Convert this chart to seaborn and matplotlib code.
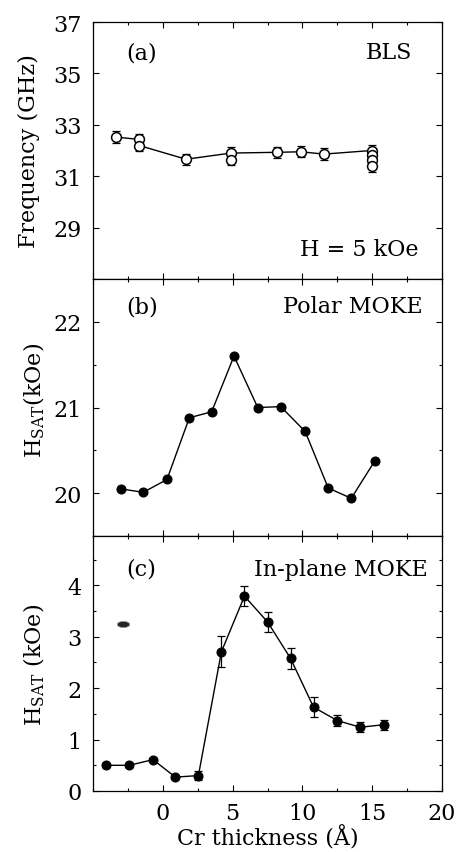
import numpy as np
import pandas as pd
import matplotlib
matplotlib.use("Agg")
import matplotlib.pyplot as plt
from matplotlib.ticker import MultipleLocator
from matplotlib.path import Path
import seaborn as sns

# ---- data -------------------------------------------------------------
# (a) BLS frequency vs Cr thickness
bls_x = [-3.33, -1.67, -1.67, 1.67, 4.88, 4.88, 8.21, 9.88, 11.55, 14.95, 14.95, 14.95, 14.95]
bls_f = [32.52, 32.43, 32.19, 31.66, 31.90, 31.64, 31.93, 31.95, 31.86, 32.00, 31.83, 31.63, 31.38]
bls_err = [0.22, 0.22, 0.22, 0.22, 0.22, 0.22, 0.22, 0.22, 0.22, 0.22, 0.22, 0.22, 0.22]
bls_line_x = [-3.33, -1.67, -1.67, 1.67, 4.88, 8.21, 9.88, 11.55, 14.95]
bls_line_f = [32.52, 32.43, 32.19, 31.66, 31.90, 31.93, 31.95, 31.86, 32.00]

# (b) polar MOKE saturation field
polar_x = [-3.0, -1.4, 0.3, 1.9, 3.5, 5.1, 6.8, 8.45, 10.2, 11.85, 13.5, 15.2]
polar_h = [20.05, 20.01, 20.16, 20.88, 20.95, 21.60, 21.00, 21.01, 20.72, 20.06, 19.94, 20.38]

# (c) in-plane MOKE saturation field
ip_x = [-4.1, -2.4, -0.7, 0.9, 2.55, 4.2, 5.85, 7.5, 9.15, 10.8, 12.5, 14.15, 15.85]
ip_h = [0.50, 0.50, 0.61, 0.27, 0.30, 2.71, 3.79, 3.29, 2.58, 1.63, 1.37, 1.24, 1.29]
ip_err = [0.0, 0.0, 0.0, 0.0, 0.08, 0.30, 0.20, 0.20, 0.20, 0.20, 0.10, 0.10, 0.10]
ip_ref_x = [-2.86]
ip_ref_h = [3.24]

x_ticks = [0, 5, 10, 15, 20]
freq_ticks = [29, 31, 33, 35, 37]
polar_ticks = [20, 21, 22]
ip_ticks = [0, 1, 2, 3, 4]

# ---- style ------------------------------------------------------------
sns.set_theme(style="ticks")
plt.rcParams["font.family"] = ["DejaVu Serif"]
plt.rcParams["mathtext.fontset"] = "custom"
plt.rcParams["mathtext.rm"] = "DejaVu Serif"
plt.rcParams["mathtext.it"] = "DejaVu Serif"
plt.rcParams["text.color"] = "black"
plt.rcParams["axes.labelcolor"] = "black"
FS = 16

fig = plt.figure(figsize=(4.57, 8.53), dpi=100)
left, right = 93 / 457, 442 / 457
edges = [1 - 23 / 853, 1 - 280 / 853, 1 - 537 / 853, 1 - 792 / 853]
axes = []
for i in range(3):
    ax = fig.add_axes([left, edges[i + 1], right - left, edges[i] - edges[i + 1]])
    axes.append(ax)
ax_a, ax_b, ax_c = axes

for ax in axes:
    ax.set_xlim(-5, 20)
    ax.xaxis.set_major_locator(MultipleLocator(5))
    ax.xaxis.set_minor_locator(MultipleLocator(2.5))
    ax.tick_params(which="both", direction="in", top=True, right=True,
                   labelsize=FS, colors="black", width=0.8)
    ax.tick_params(which="major", length=4, pad=8)
    ax.tick_params(which="minor", length=2.5)
    for s in ax.spines.values():
        s.set_linewidth(0.9)
        s.set_color("black")
    if ax is not ax_c:
        ax.tick_params(labelbottom=False)

# (a)
ax_a.set_ylim(27, 37)
ax_a.set_yticks(freq_ticks)
ax_a.errorbar(bls_x, bls_f, yerr=bls_err, fmt="none", ecolor="black",
              elinewidth=0.9, capsize=3, capthick=0.9, zorder=2)
sns.lineplot(x=bls_line_x, y=bls_line_f, ax=ax_a, color="black", lw=1.0,
             sort=False, estimator=None, zorder=3)
sns.scatterplot(x=bls_x, y=bls_f, ax=ax_a, marker="o", s=50,
                facecolor="white", edgecolor="black", linewidth=1.1, zorder=4)
ax_a.set_ylabel("Frequency (GHz)", fontsize=FS)
ax_a.text(-2.6, 35.83, "(a)", fontsize=FS, ha="left", va="center")
ax_a.text(17.9, 35.83, "BLS", fontsize=FS, ha="right", va="center")
ax_a.text(18.3, 28.17, "H = 5 kOe", fontsize=FS, ha="right", va="center")

# (b)
ax_b.set_ylim(19.5, 22.5)
ax_b.set_yticks(polar_ticks)
ax_b.yaxis.set_minor_locator(MultipleLocator(0.5))
sns.lineplot(x=polar_x, y=polar_h, ax=ax_b, color="black", lw=1.0,
             sort=False, estimator=None, marker="o", markersize=6.5,
             markeredgecolor="black", markerfacecolor="black")
ax_b.set_ylabel(r"H$_{\rm SAT}$(kOe)", fontsize=FS)
ax_b.text(-2.6, 22.18, "(b)", fontsize=FS, ha="left", va="center")
ax_b.text(18.6, 22.18, "Polar MOKE", fontsize=FS, ha="right", va="center")

# (c)
ax_c.set_ylim(0, 4.96)
ax_c.set_yticks(ip_ticks)
ax_c.yaxis.set_minor_locator(MultipleLocator(0.5))
err_mask = np.array(ip_err) > 0
ax_c.errorbar(np.array(ip_x)[err_mask], np.array(ip_h)[err_mask],
              yerr=np.array(ip_err)[err_mask], fmt="none", ecolor="black",
              elinewidth=0.9, capsize=3, capthick=0.9, zorder=2)
sns.lineplot(x=ip_x, y=ip_h, ax=ax_c, color="black", lw=1.0,
             sort=False, estimator=None, marker="o", markersize=6.5,
             markeredgecolor="black", markerfacecolor="black", zorder=3)
theta = np.linspace(0, 2 * np.pi, 40)
ellipse = Path(np.column_stack([np.cos(theta), 0.5 * np.sin(theta)]))
sns.scatterplot(x=ip_ref_x, y=ip_ref_h, ax=ax_c, marker=ellipse, s=80,
                color="#252525", edgecolor="#9a9a9a", linewidth=0.6, zorder=3)
ax_c.set_ylabel(r"H$_{\rm SAT}$ (kOe)", fontsize=FS)
ax_c.set_xticks(x_ticks)
ax_c.set_xlabel("Cr thickness (Å)", fontsize=FS, labelpad=1)
ax_c.text(-2.6, 4.32, "(c)", fontsize=FS, ha="left", va="center")
ax_c.text(19.0, 4.32, "In-plane MOKE", fontsize=FS, ha="right", va="center")

# y labels: right edge of each label placed a fixed distance from the axis
ax_a.yaxis.set_label_coords(-0.152, 0.5)
ax_b.yaxis.set_label_coords(-0.132, 0.53)
ax_c.yaxis.set_label_coords(-0.132, 0.5)

fig.savefig("out.png", dpi=100, facecolor="white")
